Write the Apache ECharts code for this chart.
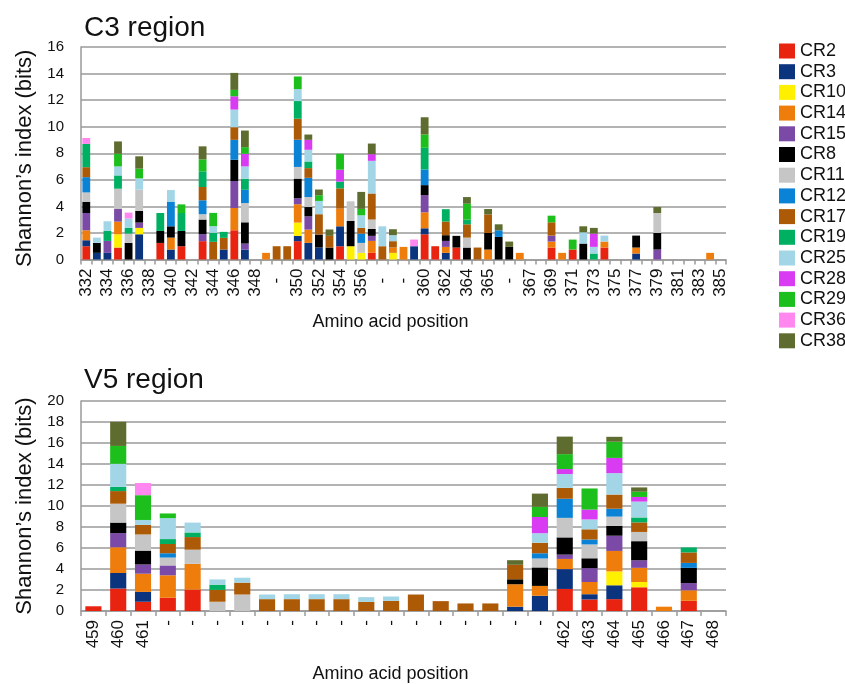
<!DOCTYPE html>
<html><head><meta charset="utf-8">
<script src="https://cdn.jsdelivr.net/npm/echarts@6/dist/echarts.min.js"></script>
<style>html,body{margin:0;padding:0;background:#fff}#c{width:845px;height:684px}</style>
</head><body><div id="c"></div>
<script>
// ---------- data ----------
const seriesNames = ['CR2','CR3','CR10','CR14','CR15','CR8','CR11','CR12','CR17','CR19','CR25','CR28','CR29','CR36','CR38'];

const c3Labels = ['332','333','334','335','336','337','338','339','340','341',
  '342','343','344','345','346','347','348','349','-','-',
  '350','351','352','353','354','355','356','357','-','358',
  '-','359','360','361','362','363','364','-','365','-',
  '-','366','367','368','369','370','371','372','373','374',
  '375','376','377','378','379','380','381','382','383','384',
  '385'];
const v5Labels = ['459','460','461','-','-','-','-','-','-','-','-','-','-','-','-','-','-','-','-','462','463','464','465','466','467','468'];

const c3YTicks = [0,2,4,6,8,10,12,14,16];
const v5YTicks = [0,2,4,6,8,10,12,14,16,18,20];

// C3 region (61 positions)
const c3CR2 = [1.0,0,0,0.9,0,0,0,1.25,0,1.0, 0,1.38,0,0,2.2,0,0,0,0,0, 1.38,0,0,0,1.0,0,0,0.5,0,0, 0,0,1.9,1.0,0,0.9,0,0,0,0, 0,0,0,0,0.9,0,0.75,0,0,0.9, 0,0,0,0,0,0,0,0,0,0, 0];
const c3CR3 = [0.45,0.5,0.5,0,0,1.9,0,0,0.75,0, 0,0,0,0.75,0,0.75,0,0,0,0, 0.4,1.25,0.9,0,1.5,0,0,0,0,0, 0,1.0,0.45,0,0.5,0,0,0,0,0, 0,0,0,0,0,0,0,0,0,0, 0,0,0.45,0,0,0,0,0,0,0, 0];
const c3CR10 = [0,0,0,1.0,0,0.48,0,0,0,0, 0,0,0,0,0,0,0,0,0,0, 1.0,0,0,0,0,1.0,0.5,0,0,0.5, 0,0,0,0,0,0,0,0,0,0, 0,0,0,0,0,0,0,0,0,0, 0,0,0,0,0,0,0,0,0,0, 0];
const c3CR14 = [0.75,0,0,0.95,0,0,0,0,0.9,0, 0,0,0,0,1.68,0,0,0.5,0,0, 1.38,1.0,0,0,1.33,0,0,0.9,0,0.4, 0.95,0,1.2,0,0.45,0,0,0,0.75,0, 0,0.5,0,0,0.45,0.5,0,0,0,0.45, 0,0,0.45,0,0,0,0,0,0,0.5, 0];
const c3CR15 = [1.3,0,0.9,0.95,0,0.4,0,0,0,0, 0,0.53,0,0,2.03,0.45,0,0,0,0, 0.45,1.0,0,0,0,0,0,0.38,0,0, 0,0,1.3,0,0.45,0,0,0,0,0, 0,0,0,0,0.45,0,0,0,0,0, 0,0,0,0,0.75,0,0,0,0,0, 0];
const c3CR8 = [0.85,0.75,0,0,1.25,0.88,0,0.9,0.85,1.15, 0,1.1,0,0,1.6,1.6,0,0,0,0, 1.48,0.7,0.98,0.9,0,1.9,0,0.53,0,0, 0,0,0.75,0,0.43,0.88,0.9,0,1.25,1.7, 0.95,0,0,0,0,0,0,1.2,0,0, 0,0,0.9,0,1.25,0,0,0,0,0, 0];
const c3CR11 = [0.7,0,0,1.53,0.7,1.6,0,0,0,0, 0,0.4,0,0,0,1.45,0,0,0,0, 0.88,0.75,0,0,0,1.48,0.75,0.7,0,0, 0,0,0,0,0,0,0.75,0,0,0, 0,0,0,0,0,0,0,0,0,0, 0,0,0,0,1.5,0,0,0,0,0, 0];
const c3CR12 = [1.15,0,0,0,0,0,0,0,1.83,0, 0,1.05,0,0,1.5,1.0,0,0,0,0, 2.05,1.45,0,0,0,0,0.7,0,0,0, 0,0,1.18,0,0,0,0,0,0,0.5, 0,0,0,0,0,0,0,0,0,0, 0,0,0,0,0,0,0,0,0,0, 0];
const c3CR17 = [0.75,0,0,0,0,0,0,0,0,0, 0,1.0,1.33,0.88,0.95,0,0,0,1.0,1.0, 1.58,0.73,1.53,0.88,1.53,0,0.43,1.96,1.0,0.48, 0,0,0,0,1.03,0,1.0,0.9,1.4,0, 0,0,0,0,1.0,0,0,0,0,0, 0,0,0,0,0,0,0,0,0,0, 0];
const c3CR19 = [1.75,0,0.75,1.0,0.43,0,0,1.35,0,1.35, 0,1.18,0.68,0.45,0,0.83,0,0,0,0, 1.33,0.5,0,0,0.5,0,0,0,0,0, 0,0,1.63,0,0.93,0,0.35,0,0,0, 0,0,0,0,0,0,0,0,0.45,0, 0,0,0,0,0,0,0,0,0,0, 0];
const c3CR25 = [0,0.4,0.73,0.68,0.7,0.85,0,0,0.9,0, 0,0,0.5,0,1.33,0.93,0,0,0,0, 0.9,0.88,1.0,0,0,0,0.95,2.46,1.5,0.45, 0,0,0,0,0,0,0,0,0,0, 0,0,0,0,0,0,0,0.85,0.5,0.45, 0,0,0,0,0,0,0,0,0,0, 0];
const c3CR28 = [0,0,0,0,0,0,0,0,0,0, 0,0,0,0,1.0,0.95,0,0,0,0, 0,0.75,0,0,0.9,0,0,0.5,0,0, 0,0,0,0,0,0,0,0,0,0, 0,0,0,0,0,0,0,0,1.0,0, 0,0,0,0,0,0,0,0,0,0, 0];
const c3CR29 = [0,0,0,0.95,0,0.73,0,0,0,0.65, 0,0.9,1.0,0,0.48,0.5,0,0,0,0, 0.95,0,0.43,0,1.2,0,0.48,0,0,0, 0,0,1.0,0,0,0,1.2,0,0,0, 0,0,0,0,0.5,0,0.75,0,0,0, 0,0,0,0,0,0,0,0,0,0, 0];
const c3CR36 = [0.45,0,0,0,0.45,0,0,0,0,0, 0,0,0,0,0,0,0,0,0,0, 0,0,0,0,0,0,0,0,0,0, 0,0.5,0,0,0,0,0,0,0,0, 0,0,0,0,0,0,0,0,0,0, 0,0,0,0,0,0,0,0,0,0, 0];
const c3CR38 = [0,0,0,0.93,0,0.93,0,0,0,0, 0,0.98,0,0,1.28,1.25,0,0,0,0, 0,0.4,0.43,0.48,0,0,1.28,0.8,0,0.45, 0,0,1.3,0,0,0,0.5,0,0.4,0.45, 0.4,0,0,0,0,0,0,0.45,0.43,0, 0,0,0,0,0.45,0,0,0,0,0, 0];

// V5 region (26 positions)
const v5CR2 = [0.45,2.14,0.88,1.26,2.04,0,0,0,0,0, 0,0,0,0,0,0,0,0,0,2.1, 1.1,1.13,2.26,0,0.97,0];
const v5CR3 = [0,1.48,0.94,0,0,0,0,0,0,0, 0,0,0,0,0,0,0,0.41,1.45,1.89, 0.5,1.32,0,0,0,0];
const v5CR10 = [0,0,0,0,0,0,0,0,0,0, 0,0,0,0,0,0,0,0,0,0, 0,1.32,0.5,0,0,0];
const v5CR14 = [0,2.45,1.73,2.14,2.45,0,0,0,0,0, 0,0,0,0,0,0,0,2.14,0.94,0.97, 1.16,1.95,1.35,0.41,1.0,0];
const v5CR15 = [0,1.35,0.88,0.94,0,0,0,0,0,0, 0,0,0,0,0,0,0,0,0,0.41, 1.32,1.45,0.72,0,0.69,0];
const v5CR8 = [0,1.0,1.32,0,0,0,0,0,0,0, 0,0,0,0,0,0,0,0.47,1.76,1.64, 0.94,0.94,1.82,0,1.45,0];
const v5CR11 = [0,1.8,1.54,0.75,1.35,0.88,1.57,0,0,0, 0,0,0,0,0,0,0,0,0.85,1.86, 1.32,0.88,0.88,0,0,0];
const v5CR12 = [0,0,0,0.41,0,0,0,0,0,0, 0,0,0,0,0,0,0,0,0.5,1.82, 0.47,0.75,0,0,0.47,0];
const v5CR17 = [0,1.2,0.91,0.88,1.2,1.13,1.13,1.13,1.13,1.13, 1.13,0.88,0.97,1.57,0.94,0.72,0.72,1.38,1.0,1.04, 0.97,1.35,0.91,0,1.0,0];
const v5CR19 = [0,0.4,0,0.47,0.44,0.5,0,0,0,0, 0,0,0,0,0,0,0,0,0,0, 0,0,0.47,0,0.47,0];
const v5CR25 = [0,2.2,0.47,2.0,0.94,0.5,0.47,0.44,0.47,0.47, 0.47,0.44,0.41,0,0,0,0,0,0.91,1.32, 0.94,2.04,1.51,0,0,0];
const v5CR28 = [0,0,0,0,0,0,0,0,0,0, 0,0,0,0,0,0,0,0,1.54,0.47, 0.94,1.45,0.44,0,0,0];
const v5CR29 = [0,1.7,2.36,0.44,0,0,0,0,0,0, 0,0,0,0,0,0,0,0,0.97,1.42, 2.01,1.54,0.5,0,0,0];
const v5CR36 = [0,0,1.16,0,0,0,0,0,0,0, 0,0,0,0,0,0,0,0,0,0, 0,0,0,0,0,0];
const v5CR38 = [0,2.3,0,0,0,0,0,0,0,0, 0,0,0,0,0,0,0,0.44,1.26,1.67, 0,0.47,0.41,0,0,0];

const c3Data = [c3CR2,c3CR3,c3CR10,c3CR14,c3CR15,c3CR8,c3CR11,c3CR12,c3CR17,c3CR19,c3CR25,c3CR28,c3CR29,c3CR36,c3CR38];
const v5Data = [v5CR2,v5CR3,v5CR10,v5CR14,v5CR15,v5CR8,v5CR11,v5CR12,v5CR17,v5CR19,v5CR25,v5CR28,v5CR29,v5CR36,v5CR38];

// ---------- style ----------
const seriesColors = ['#e8230f','#0b347f','#fff000','#ef7d0b','#7b4aa6','#000000','#c6c6c6','#0a82d6','#ad5a06','#00b062','#a2d6e6','#d93bf2','#1cbf1c','#ff87ef','#5e6d2f'];
const FF = '"Liberation Sans", Arial, sans-serif';
const TXT = '#111';
const GRID = '#9a9a9a';

function yAxisCfg(gi, ticks, namePad){
  return {
    type:'value', gridIndex:gi, min:ticks[0], max:ticks[ticks.length-1], interval:ticks[1]-ticks[0],
    axisLine:{show:true, lineStyle:{color:GRID, width:1.5}},
    axisTick:{show:false},
    splitLine:{show:true, lineStyle:{color:GRID, width:1.5}},
    axisLabel:{fontSize:15, color:TXT, fontFamily:FF, margin:17},
    name:'Shannon’s index (bits)', nameLocation:'middle', nameGap:45,
    nameTextStyle:{fontSize:22, color:TXT, fontFamily:FF, padding:namePad}
  };
}
function xAxisCfg(gi, labels, interval, dashPad){
  return {
    type:'category', gridIndex:gi, data:labels,
    axisLine:{show:true, lineStyle:{color:GRID, width:1.5}},
    axisTick:{show:true, interval:0, length:5, lineStyle:{color:GRID, width:1.5}},
    axisLabel:{interval:interval, rotate:90, fontSize:17, color:TXT, fontFamily:FF, margin:9,
      formatter: v => (v === '-' ? '-' + dashPad : v)},
    name:'Amino acid position', nameLocation:'middle', nameGap:54,
    nameTextStyle:{fontSize:18, color:TXT, fontFamily:FF, padding:[0,26,0,0]}
  };
}

const series = [];
seriesNames.forEach((n,i)=>{
  series.push({name:n, type:'bar', stack:'c3', xAxisIndex:0, yAxisIndex:0, data:c3Data[i],
    itemStyle:{color:seriesColors[i]}, barCategoryGap:'26%'});
});
seriesNames.forEach((n,i)=>{
  series.push({name:n, type:'bar', stack:'v5', xAxisIndex:1, yAxisIndex:1, data:v5Data[i],
    itemStyle:{color:seriesColors[i]}, barCategoryGap:'35%'});
});

const chart = echarts.init(document.getElementById('c'), null, {renderer:'canvas'});
chart.setOption({
  animation:false,
  backgroundColor:'#fff',
  color:seriesColors,
  textStyle:{fontFamily:FF},
  title:[
    {text:'C3 region', left:79, top:9, textStyle:{fontSize:28, fontWeight:'normal', color:TXT, fontFamily:FF}},
    {text:'V5 region', left:79, top:361, textStyle:{fontSize:28, fontWeight:'normal', color:TXT, fontFamily:FF}}
  ],
  legend:{orient:'vertical', left:774, top:37, itemWidth:16, itemHeight:15, itemGap:2.7, icon:'rect',
    textStyle:{fontSize:18, color:TXT, fontFamily:FF, lineHeight:18}, data:seriesNames},
  grid:[
    {left:81, right:119, top:47, height:212.5},
    {left:81, right:119, top:401, height:212}
  ],
  xAxis:[xAxisCfg(0, c3Labels, 1, '  '), xAxisCfg(1, v5Labels, 0, '')],
  yAxis:[yAxisCfg(0, c3YTicks, [0,10,0,0]), yAxisCfg(1, v5YTicks, [0,0,0,0])],
  series:series
});
</script></body></html>
